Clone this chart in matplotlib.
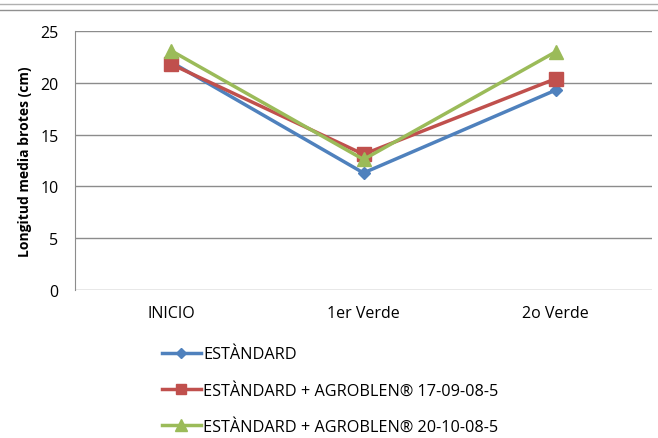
import matplotlib.pyplot as plt
from matplotlib.lines import Line2D

# data
etapas = ["INICIO", "1er Verde", "2o Verde"]
estandard = [22.0, 11.3, 19.3]
agro_17 = [21.8, 13.1, 20.4]
agro_20 = [23.1, 12.6, 23.0]

nombres = [
    "ESTÀNDARD",
    "ESTÀNDARD + AGROBLEN® 17-09-08-5",
    "ESTÀNDARD + AGROBLEN® 20-10-08-5",
]
colores = ["#4F81BD", "#C0504D", "#9BBB59"]
marcadores = ["D", "s", "^"]
tamanos = [6, 9.5, 10]

plt.rcParams["font.family"] = ["Open Sans", "DejaVu Sans"]

fig = plt.figure(figsize=(6.58, 4.39), dpi=100)
ax = fig.add_axes([75 / 658, 1 - 291 / 439, 577 / 658, 259 / 439])

x = range(len(etapas))
for serie, nombre, c, m, ms in zip([estandard, agro_17, agro_20], nombres, colores, marcadores, tamanos):
    ax.plot(x, serie, color=c, marker=m, markersize=ms, linewidth=2.5, label=nombre)

ax.set_xlim(-0.5, len(etapas) - 0.5)
ax.set_ylim(0, 25)
ax.set_yticks([0, 5, 10, 15, 20, 25])
ax.set_xticks(list(x))
ax.set_xticklabels(etapas, fontsize=11.5)
ax.tick_params(axis="y", labelsize=11.5, length=0, pad=12)
ax.tick_params(axis="x", length=0, pad=11)
ax.yaxis.grid(True, color="#8c8c8c", linewidth=1)
ax.set_axisbelow(True)
for s in ["top", "right", "bottom"]:
    ax.spines[s].set_visible(False)
ax.spines["left"].set_color("#8c8c8c")
ax.set_ylabel("Longitud media brotes (cm)", fontsize=10, fontweight="bold", labelpad=6)

fig.legend(loc="upper left", bbox_to_anchor=(155 / 658, 1 - 341 / 439), frameon=False,
           fontsize=11.7, handlelength=2.4, handletextpad=0.15, labelspacing=1.25,
           markerscale=0.8, borderaxespad=0)

# page border lines at the top
fig.add_artist(Line2D([0, 1], [1 - 5 / 439, 1 - 5 / 439], color="#b0b0b0", linewidth=1))
fig.add_artist(Line2D([0, 1], [1 - 11 / 439, 1 - 11 / 439], color="#909090", linewidth=1))

fig.savefig("out.png", dpi=100)
